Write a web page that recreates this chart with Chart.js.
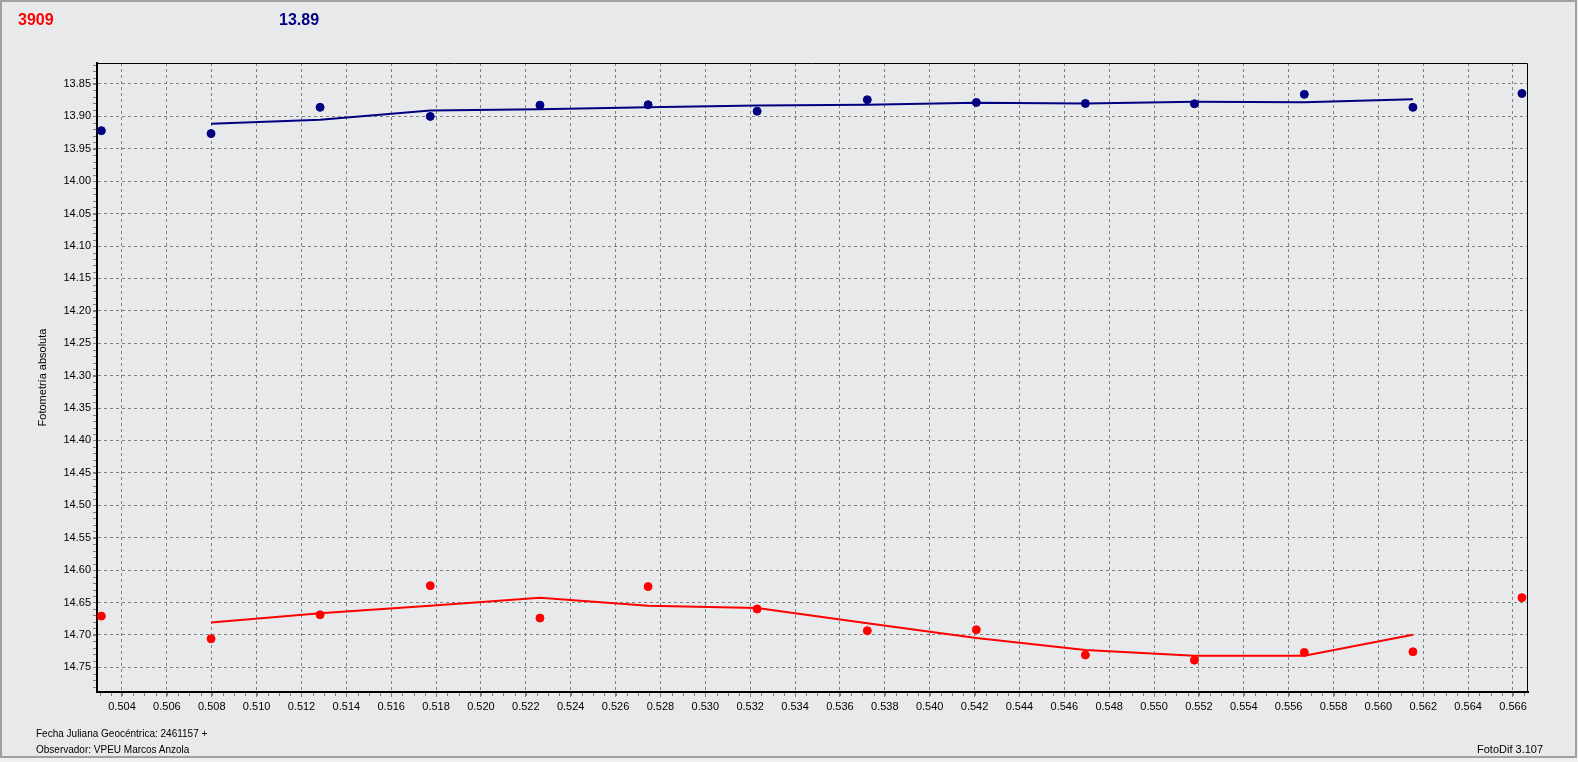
<!DOCTYPE html>
<html lang="es">
<head>
<meta charset="utf-8">
<title>FotoDif - Fotometría absoluta</title>
<script src="https://cdn.jsdelivr.net/npm/chart.js@4.4.1/dist/chart.umd.min.js"></script>
<style>
  html, body { margin: 0; padding: 0; }
  body { width: 1578px; height: 762px; background: #f0f0f0; position: relative; overflow: hidden;
         font-family: "Liberation Sans", Arial, sans-serif; }
  #marco { position: absolute; left: 0; top: 0; width: 1577px; height: 758px; box-sizing: border-box;
           border: 2px solid #a0a0a0; border-right-width: 2px; background: #e8e9eb; }
  #grafico { position: absolute; left: 0; top: 0; }
  .txt { position: absolute; white-space: nowrap; line-height: 1; }
  #idVar  { left: 18px; top: 11px; font: bold 16px "Liberation Sans", Arial, sans-serif; color: #ff0000; }
  #magCmp { left: 279px; top: 11px; font: bold 16px "Liberation Sans", Arial, sans-serif; color: #000080; }
  #pie1 { left: 36px; top: 729px; font-size: 10px; color: #000; }
  #pie2 { left: 36px; top: 745px; font-size: 10px; color: #000; }
  #version { left: 1477px; top: 744px; font-size: 11px; color: #000; }
</style>
</head>
<body>
<div id="marco"></div>
<canvas id="grafico" width="1578" height="762"></canvas>
<div class="txt" id="idVar">3909</div>
<div class="txt" id="magCmp">13.89</div>
<div class="txt" id="pie1">Fecha Juliana Geocéntrica: 2461157 +</div>
<div class="txt" id="pie2">Observador: VPEU Marcos Anzola</div>
<div class="txt" id="version">FotoDif 3.107</div>
<script>
// fracción de día (JD - 2461157)
const fechas = [0.50308, 0.50797, 0.51283, 0.51774, 0.52263, 0.52745, 0.53231,
                0.53722, 0.54208, 0.54694, 0.55180, 0.55670, 0.56154, 0.56640];

// estrella variable (rojo) y comparación (azul)
const magVariable = [14.671, 14.706, 14.669, 14.624, 14.674, 14.6255, 14.660,
                     14.6935, 14.692, 14.731, 14.739, 14.727, 14.726, 14.6425];
const magComparacion = [13.922, 13.9265, 13.886, 13.900, 13.8826, 13.882, 13.892,
                        13.8743, 13.8785, 13.880, 13.8805, 13.866, 13.886, 13.8646];

// curvas suavizadas (del punto 2 al 13)
const fechasSuav = fechas.slice(1, 13);
const suavVariable = [14.681, 14.6666, 14.655, 14.6425, 14.655, 14.6584,
                      14.682, 14.7047, 14.7233, 14.732, 14.732, 14.6997];
const suavComparacion = [13.9115, 13.905, 13.891, 13.889, 13.886, 13.883,
                         13.882, 13.879, 13.880, 13.8775, 13.878, 13.8735];

// ejes
const ticksX = [0.504, 0.506, 0.508, 0.510, 0.512, 0.514, 0.516, 0.518, 0.520, 0.522,
                0.524, 0.526, 0.528, 0.530, 0.532, 0.534, 0.536, 0.538, 0.540, 0.542,
                0.544, 0.546, 0.548, 0.550, 0.552, 0.554, 0.556, 0.558, 0.560, 0.562,
                0.564, 0.566];
const ticksY = [13.85, 13.90, 13.95, 14.00, 14.05, 14.10, 14.15, 14.20, 14.25, 14.30,
                14.35, 14.40, 14.45, 14.50, 14.55, 14.60, 14.65, 14.70, 14.75];
const rangoX = [0.502886, 0.566669];
const rangoY = [13.8176, 14.7881];
const pasoMenorX = 0.0005;
const pasoMenorY = 0.01;

const ROJO = "#ff0000";
const AZUL = "#000080";
const GRIS = "#808080";
const FUENTE = "'Liberation Sans', Arial, sans-serif";

const pts = (xs, ys) => xs.map((x, i) => ({ x, y: ys[i] }));

// marco superior/derecho del área y marcas menores
const marcoArea = {
  id: "marcoArea",
  afterDraw(chart) {
    const { ctx, chartArea: a, scales } = chart;
    ctx.save();
    ctx.strokeStyle = "#000";
    ctx.lineWidth = 1;
    ctx.beginPath();
    ctx.moveTo(a.left, a.top + 0.5);
    ctx.lineTo(a.right - 0.5, a.top + 0.5);
    ctx.lineTo(a.right - 0.5, a.bottom);
    ctx.stroke();

    ctx.strokeStyle = GRIS;
    ctx.beginPath();
    const sx = scales.x, sy = scales.y;
    for (let k = Math.ceil(rangoX[0] / pasoMenorX); k * pasoMenorX <= rangoX[1]; k++) {
      const px = Math.round(sx.getPixelForValue(k * pasoMenorX)) + 0.5;
      ctx.moveTo(px, a.bottom + 1);
      ctx.lineTo(px, a.bottom + 4);
    }
    for (let k = Math.ceil(rangoY[0] / pasoMenorY); k * pasoMenorY <= rangoY[1]; k++) {
      const py = Math.round(sy.getPixelForValue(k * pasoMenorY)) + 0.5;
      ctx.moveTo(a.left - 4, py);
      ctx.lineTo(a.left - 1, py);
    }
    ctx.stroke();
    ctx.restore();
  }
};

new Chart(document.getElementById("grafico").getContext("2d"), {
  type: "scatter",
  data: {
    datasets: [
      { label: "Variable", data: pts(fechas, magVariable), showLine: false,
        pointRadius: 4, pointBackgroundColor: ROJO, pointBorderColor: ROJO, pointBorderWidth: 1 },
      { label: "Comparación", data: pts(fechas, magComparacion), showLine: false,
        pointRadius: 4, pointBackgroundColor: AZUL, pointBorderColor: AZUL, pointBorderWidth: 1 },
      { label: "Suav. variable", data: pts(fechasSuav, suavVariable), showLine: true,
        borderColor: ROJO, borderWidth: 2, pointRadius: 0, tension: 0 },
      { label: "Suav. comparación", data: pts(fechasSuav, suavComparacion), showLine: true,
        borderColor: AZUL, borderWidth: 2, pointRadius: 0, tension: 0 }
    ]
  },
  options: {
    responsive: false,
    animation: false,
    events: [],
    layout: { padding: { left: 0, top: 63, right: 50, bottom: 0 } },
    plugins: { legend: { display: false }, tooltip: { enabled: false } },
    scales: {
      x: {
        type: "linear", min: rangoX[0], max: rangoX[1],
        afterFit: (s) => { s.height = 70; },
        afterBuildTicks: (s) => { s.ticks = ticksX.map(v => ({ value: v })); },
        grid: { color: GRIS, lineWidth: 1, tickLength: 5, tickColor: GRIS, tickBorderDash: [] },
        border: { display: true, color: "#000", width: 2, dash: [3, 3] },
        ticks: { color: "#000", padding: 3, maxRotation: 0, autoSkip: false,
                 font: { family: FUENTE, size: 11 }, callback: (v) => Number(v).toFixed(3) }
      },
      y: {
        type: "linear", reverse: true, min: rangoY[0], max: rangoY[1],
        afterFit: (s) => { s.width = 97; },
        afterBuildTicks: (s) => { s.ticks = ticksY.map(v => ({ value: v })); },
        grid: { color: GRIS, lineWidth: 1, tickLength: 4, tickColor: GRIS, tickBorderDash: [] },
        border: { display: true, color: "#000", width: 2, dash: [3, 3] },
        ticks: { color: "#000", padding: 2, autoSkip: false,
                 font: { family: FUENTE, size: 11 }, callback: (v) => Number(v).toFixed(2) },
        title: { display: true, text: "Fotometría absoluta", color: "#000",
                 font: { family: FUENTE, size: 11 }, padding: { top: 36, bottom: 0 } }
      }
    }
  },
  plugins: [marcoArea]
});
</script>
</body>
</html>
